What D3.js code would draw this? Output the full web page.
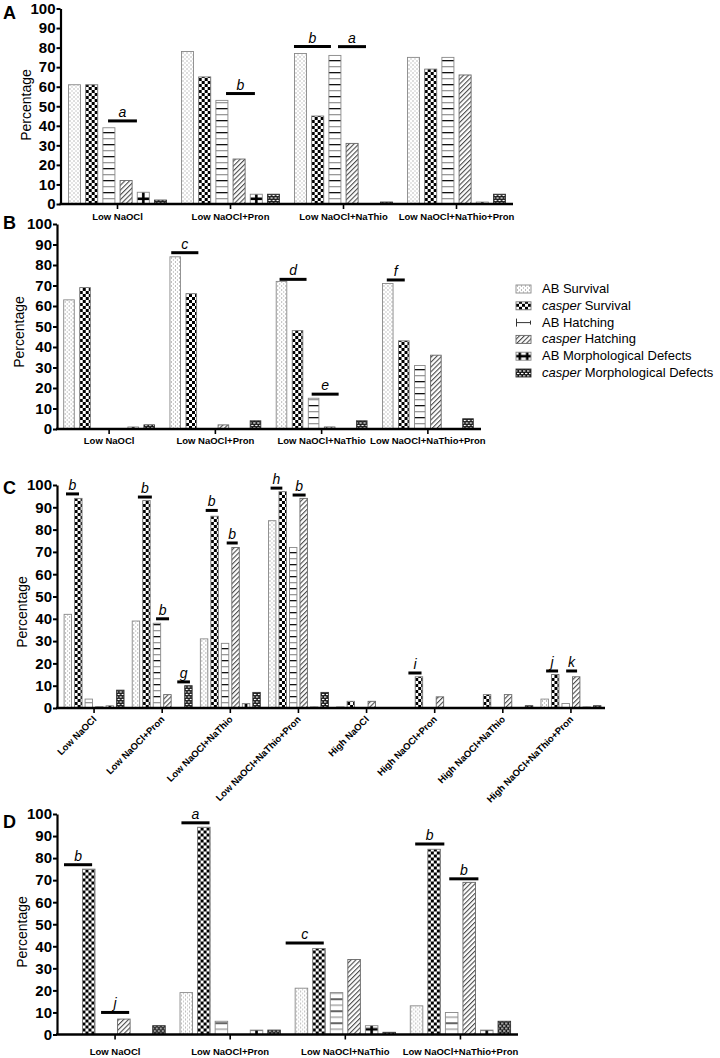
<!DOCTYPE html>
<html><head><meta charset="utf-8">
<script src="https://cdn.jsdelivr.net/npm/d3@7"></script>
<style>
body{margin:0;background:#fff;}
svg{display:block;font-family:"Liberation Sans",Arial,sans-serif;}
</style></head><body>
<svg id="c" width="720" height="1058"></svg>
<script>
// ---------------- DATA ----------------
const series = ["AB Survival","casper Survival","AB Hatching","casper Hatching","AB Morphological Defects","casper Morphological Defects"];
const catsLow = ["Low NaOCl","Low NaOCl+Pron","Low NaOCl+NaThio","Low NaOCl+NaThio+Pron"];
const catsAll = ["Low NaOCl","Low NaOCl+Pron","Low NaOCl+NaThio","Low NaOCl+NaThio+Pron","High NaOCl","High NaOCl+Pron","High NaOCl+NaThio","High NaOCl+NaThio+Pron"];
const yTicks = [0,10,20,30,40,50,60,70,80,90,100];

// rows = categories, columns = series
const valuesA = [
  [61,61,39,12,6,2],
  [78,65,53,23,5,5],
  [77,45,76,31,0,1],
  [75,69,75,66,1,5]
];
const valuesB = [
  [63,69,0,0,1,2],
  [84,66,0,2,0,4],
  [72,48,15,1,0,4],
  [71,43,31,36,0,5]
];
const valuesC = [
  [42,94,4,0.5,1,8],
  [39,93,38,6,0,10],
  [31,86,29,72,2,7],
  [84,97,72,94,0.5,7],
  [0.5,3,0,3,0,0],
  [0,14,0,5,0,0],
  [0,6,0,6,0,1],
  [4,15,2,14,0.5,1]
];
const valuesD = [
  [0,75,0,7,0,4],
  [19,94,6,0,2,2],
  [21,39,19,34,4,1],
  [13,84,10,69,2,6]
];
// significance bars: category index, span in bar units (from, to), height (%), letter
const notesA = [
  {c:0,u0:2.30,u1:3.98,v:42.5,t:"a"},
  {c:1,u0:2.59,u1:4.27,v:56.5,t:"b"},
  {c:2,u0:-0.03,u1:2.12,v:80.5,t:"b"},
  {c:2,u0:2.53,u1:4.16,v:80.5,t:"a"}
];
const notesB = [
  {c:1,u0:0.08,u1:1.77,v:86,t:"c"},
  {c:2,u0:0.21,u1:1.89,v:73,t:"d"},
  {c:2,u0:2.21,u1:3.89,v:17,t:"e"},
  {c:3,u0:0.27,u1:1.39,v:72.7,t:"f"}
];
const notesC = [
  {c:0,u0:0.18,u1:1.42,v:96,t:"b"},
  {c:1,u0:0.54,u1:1.87,v:94.6,t:"b"},
  {c:1,u0:2.27,u1:3.51,v:40,t:"b"},
  {c:1,u0:4.29,u1:5.5,v:11.7,t:"g"},
  {c:2,u0:0.51,u1:1.66,v:88.6,t:"b"},
  {c:2,u0:2.51,u1:3.56,v:74,t:"b"},
  {c:3,u0:0.2,u1:1.32,v:98.6,t:"h"},
  {c:3,u0:2.3,u1:3.54,v:95.5,t:"b"},
  {c:5,u0:0.35,u1:1.6,v:15.7,t:"i"},
  {c:7,u0:0.49,u1:1.63,v:16.6,t:"j"},
  {c:7,u0:2.4,u1:3.44,v:16.6,t:"k"}
];
const notesD = [
  {c:0,u0:-0.05,u1:1.55,v:77,t:"b"},
  {c:0,u0:2.06,u1:3.66,v:10,t:"j"},
  {c:1,u0:0.08,u1:1.68,v:96,t:"a"},
  {c:2,u0:-0.54,u1:1.63,v:41.5,t:"c"},
  {c:3,u0:0.28,u1:1.94,v:86.4,t:"b"},
  {c:3,u0:2.22,u1:3.88,v:70.6,t:"b"}
];

// ---------------- LAYOUT ----------------
const panels = [
  {key:"A", cats:catsLow, vals:valuesA, notes:notesA},
  {key:"B", cats:catsLow, vals:valuesB, notes:notesB},
  {key:"C", cats:catsAll, vals:valuesC, notes:notesC},
  {key:"D", cats:catsLow, vals:valuesD, notes:notesD}
];
const layout = {
  A:{axisX:60.5, xr:[61,513], yr:[204,8.5], pad:7.5, pi:0.3, letterY:19, labX:31, labY:105, xlabPad:4},
  B:{axisX:57, xr:[56,481], yr:[429,224], pad:7.7, pi:0.34, letterY:229, labX:24, labY:332, xlabPad:3},
  C:{axisX:57, xr:[60,605], yr:[708,485], pad:4.1, pi:0.29, letterY:494, labX:27, labY:612, rotate:true},
  D:{axisX:57, xr:[57.5,518], yr:[1034.5,814], pad:7.4, pi:0.286, letterY:828, labX:27, labY:932, xlabPad:9}
};
const FONT = '"Liberation Sans", Arial, sans-serif';

const svg = d3.select("#c");
const defs = svg.append("defs");

function pat(id,w,h){
  const p = defs.append("pattern").attr("id",id).attr("patternUnits","userSpaceOnUse").attr("width",w).attr("height",h);
  p.append("rect").attr("width",w).attr("height",h).attr("fill","#fff");
  return p;
}
// dotted
let p = pat("pDots",4,4);
p.append("rect").attr("x",1).attr("y",0.5).attr("width",1).attr("height",1).attr("fill","#7a7a7a");
p.append("rect").attr("x",3).attr("y",2.5).attr("width",1).attr("height",1).attr("fill","#9a9a9a");
// checker
p = pat("pCheck",6,6);
p.append("rect").attr("x",0).attr("y",0).attr("width",3).attr("height",3).attr("fill","#000");
p.append("rect").attr("x",3).attr("y",3).attr("width",3).attr("height",3).attr("fill","#000");
// horizontal lines
p = pat("pHL",4,12);
p.append("rect").attr("x",0).attr("y",0).attr("width",4).attr("height",1.3).attr("fill","#111");
p.append("rect").attr("x",0).attr("y",6).attr("width",4).attr("height",1.3).attr("fill","#999");
// diagonal
p = pat("pDiag",3.4,3.4).attr("patternTransform","rotate(45)");
p.append("rect").attr("x",0).attr("y",0).attr("width",1.1).attr("height",3.4).attr("fill","#4a4a4a");
// brick
p = defs.append("pattern").attr("id","pBrick").attr("patternUnits","userSpaceOnUse").attr("width",8).attr("height",5);
p.append("rect").attr("width",8).attr("height",5).attr("fill","#151515");
[[1,0.9],[5,0.9],[3,3.4],[-1,3.4],[7,3.4]].forEach(([x,y])=>p.append("rect").attr("x",x).attr("y",y).attr("width",2.4).attr("height",1.2).attr("fill","#fff"));

function crossPattern(id,w,h,hy){
  const q = pat(id,w,h);
  q.append("rect").attr("x",w/2-1.3).attr("y",0).attr("width",2.6).attr("height",h).attr("fill","#000");
  q.append("rect").attr("x",0).attr("y",hy).attr("width",w).attr("height",2.6).attr("fill","#000");
}
const strokes = ["#888","#777","#888","#666","#888","#333"];
function fillFor(si,key){
  return ["url(#pDots)","url(#pCheck)","url(#pHL)","url(#pDiag)","url(#cross"+key+")","url(#pBrick)"][si];
}

// ---------------- PANELS ----------------
panels.forEach(P=>{
  const L = layout[P.key];
  const g = svg.append("g");
  const x0 = d3.scaleBand().domain(P.cats).range(L.xr).paddingInner(0).paddingOuter(0);
  const x1 = d3.scaleBand().domain(series).range([L.pad, x0.bandwidth()-L.pad]).paddingInner(L.pi).paddingOuter(0);
  const y = d3.scaleLinear().domain([0,100]).range(L.yr);
  const bw = x1.bandwidth();
  crossPattern("cross"+P.key, bw, 10, 3.5);

  const rows = P.cats.map((c,ci)=>({cat:c, vals:P.vals[ci]}));
  g.append("g").selectAll("g").data(rows).join("g")
    .attr("transform", d=>`translate(${x0(d.cat)},${y(0)})`)
    .selectAll("g").data(d=>d.vals.map((v,si)=>({s:series[si],si,v})).filter(e=>e.v>0)).join("g")
    .attr("transform", d=>`translate(${x1(d.s)},0)`)
    .append("rect")
    .attr("x",0).attr("y",d=>y(d.v)-y(0)).attr("width",bw).attr("height",d=>y(0)-y(d.v))
    .attr("fill",d=>fillFor(d.si,P.key)).attr("stroke",d=>strokes[d.si]).attr("stroke-width",0.9);

  // x axis line
  g.append("line").attr("x1",L.axisX-1).attr("x2",L.xr[1]).attr("y1",y(0)).attr("y2",y(0))
    .attr("stroke","#000").attr("stroke-width",2.5);
  const xa = d3.axisBottom(x0).tickSize(5).tickSizeOuter(0).tickPadding(L.xlabPad||3);
  const xg = g.append("g").attr("transform",`translate(0,${y(0)})`).call(xa);
  xg.select(".domain").remove();
  xg.selectAll(".tick line").attr("stroke-width",1.6);
  xg.selectAll("text").attr("font-family",FONT).attr("font-size",9.5).attr("font-weight","bold").attr("fill","#000");
  if (L.rotate){
    xg.selectAll("text").attr("y",0).attr("dy",0).attr("text-anchor","end")
      .attr("transform","translate(3,12) rotate(-45)");
  }

  // y axis
  const ya = d3.axisLeft(y).tickValues(yTicks).tickSize(4).tickPadding(1).tickSizeOuter(0);
  const yg = g.append("g").attr("transform",`translate(${L.axisX},0)`).call(ya);
  yg.select(".domain").attr("stroke-width",2.2);
  yg.selectAll(".tick line").attr("stroke-width",2);
  yg.selectAll("text").attr("font-family",FONT).attr("font-size",15).attr("font-weight","bold").attr("fill","#000");

  // y label
  g.append("text").attr("transform",`translate(${L.labX},${L.labY}) rotate(-90)`)
    .attr("text-anchor","middle").attr("font-size",14).attr("font-family",FONT).text("Percentage");
  // panel letter
  g.append("text").attr("x",3).attr("y",L.letterY).attr("font-size",18).attr("font-weight","bold")
    .attr("font-family",FONT).text(P.key);

  // significance annotations
  const ux = (c,u)=> x0(P.cats[c]) + x1.range()[0] + u*x1.step();
  const ng = g.append("g").selectAll("g").data(P.notes).join("g");
  ng.append("line").attr("x1",d=>ux(d.c,d.u0)).attr("x2",d=>ux(d.c,d.u1))
    .attr("y1",d=>y(d.v)).attr("y2",d=>y(d.v)).attr("stroke","#000").attr("stroke-width",3);
  ng.append("text").attr("x",d=>(ux(d.c,d.u0)+ux(d.c,d.u1))/2).attr("y",d=>y(d.v)-4)
    .attr("text-anchor","middle").attr("font-style","italic").attr("font-size",14)
    .attr("font-family",FONT).text(d=>d.t);
});

// ---------------- LEGEND ----------------
crossPattern("crossL",7.5,8,2.7);
const legFill = ["url(#pDots)","url(#pCheck)",null,"url(#pDiag)","url(#crossL)","url(#pBrick)"];
const lg = svg.append("g").attr("transform","translate(516,0)");
const li = lg.selectAll("g").data(series).join("g")
  .attr("transform",(d,i)=>`translate(0,${293+i*16.8})`);
li.each(function(d,i){
  const s = d3.select(this);
  if (i===2){
    s.append("line").attr("x1",0.5).attr("x2",0.5).attr("y1",-8).attr("y2",0).attr("stroke","#333");
    s.append("line").attr("x1",14.5).attr("x2",14.5).attr("y1",-6).attr("y2",-2).attr("stroke","#333");
    s.append("line").attr("x1",0).attr("x2",15).attr("y1",-4).attr("y2",-4).attr("stroke","#333");
  } else {
    s.append("rect").attr("x",0).attr("y",-8).attr("width",15).attr("height",8)
      .attr("fill",legFill[i]).attr("stroke",strokes[i]).attr("stroke-width",0.9);
  }
  const t = s.append("text").attr("x",26).attr("y",0).attr("font-size",13).attr("font-family",FONT);
  if (d.startsWith("casper")){
    t.append("tspan").attr("font-style","italic").text("casper");
    t.append("tspan").text(d.slice(6));
  } else t.text(d);
});
</script>
</body></html>
